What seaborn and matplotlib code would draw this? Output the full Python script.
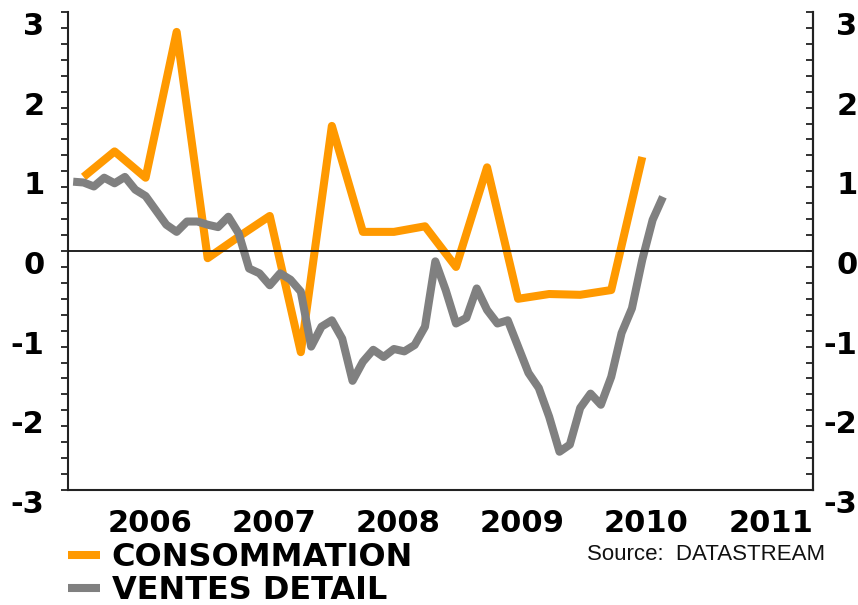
import numpy as np
import pandas as pd
import matplotlib
matplotlib.use("Agg")
import matplotlib.pyplot as plt
import seaborn as sns

# ---- data ----
cons_start = "2005Q1"
cons_values = [0.93, 1.25, 0.92, 2.75, -0.09, 0.18, 0.44, -1.27, 1.57, 0.24,
               0.24, 0.31, -0.20, 1.05, -0.60, -0.54, -0.55, -0.49, 1.18]
ventes_start = "2005-01"
ventes_values = [0.87, 0.86, 0.81, 0.92, 0.85, 0.93, 0.77, 0.69, 0.51, 0.33,
                 0.24, 0.37, 0.37, 0.33, 0.30, 0.43, 0.22, -0.22, -0.28, -0.43,
                 -0.28, -0.36, -0.51, -1.20, -0.95, -0.87, -1.10, -1.63, -1.39, -1.24,
                 -1.33, -1.23, -1.26, -1.18, -0.95, -0.13, -0.49, -0.91, -0.84, -0.47,
                 -0.74, -0.91, -0.87, -1.20, -1.53, -1.72, -2.08, -2.52, -2.43, -1.97,
                 -1.79, -1.93, -1.58, -1.03, -0.72, -0.11, 0.39, 0.68]
year_ticks = [2005, 2006, 2007, 2008, 2009, 2010, 2011]
year_labels = ["", "2006", "2007", "2008", "2009", "2010", "2011"]
y_ticks = [-3, -2, -1, 0, 1, 2, 3]
series_names = ["CONSOMMATION", "VENTES DETAIL"]
source_text = "Source:  DATASTREAM"

# ---- build tables ----
qp = pd.period_range(cons_start, periods=len(cons_values), freq="Q")
cons_df = pd.DataFrame({"t": qp.year + (qp.quarter - 0.5) / 4, "v": cons_values})
mp = pd.period_range(ventes_start, periods=len(ventes_values), freq="M")
ventes_df = pd.DataFrame({"t": mp.year + (mp.month - 0.5) / 12, "v": ventes_values})

sns.set_style("white")
plt.rcParams["font.family"] = ["DejaVu Sans"]
plt.rcParams["text.color"] = "black"

W, H = 858, 605
fig = plt.figure(figsize=(W / 100, H / 100), dpi=100)
L, R, T, B = 68, 813, 12, 490
ax = fig.add_axes([L / W, 1 - B / H, (R - L) / W, (B - T) / H])

ORANGE = "#FF9900"
GRAY = "#808080"
LW = 5.8

sns.lineplot(data=cons_df, x="t", y="v", ax=ax, color=ORANGE, linewidth=LW,
             estimator=None, label=series_names[0], zorder=3)
sns.lineplot(data=ventes_df, x="t", y="v", ax=ax, color=GRAY, linewidth=LW,
             estimator=None, label=series_names[1], zorder=4)
for ln in ax.lines:
    ln.set_solid_joinstyle("round")
    ln.set_solid_capstyle("butt")

ax.axhline(0, color="#111111", lw=1.3, zorder=5)

ax.set_xlim(year_ticks[0], year_ticks[-1])
ax.set_ylim(y_ticks[0], y_ticks[-1])
ax.set_xlabel("")
ax.set_ylabel("")

spine_c = "#222222"
for s in ["left", "right", "bottom"]:
    ax.spines[s].set_color(spine_c)
    ax.spines[s].set_linewidth(1.5)
ax.spines["top"].set_visible(False)

ax.set_xticks(year_ticks)
ax.set_xticklabels(year_labels, ha="right", fontsize=22, fontweight="bold", color="black")
ax.tick_params(axis="x", direction="out", length=5, width=1.3, color=spine_c, pad=9)

ax.set_yticks(y_ticks)
ax.set_yticks(np.arange(-3, 3.01, 0.2), minor=True)
ax.set_yticklabels([str(v) for v in y_ticks], va="top", fontsize=22,
                   fontweight="bold", color="black")
ax.tick_params(axis="y", which="both", direction="out", length=5, width=1.3,
               color=spine_c, pad=12, left=True, right=False)

ax2 = ax.twinx()
ax2.set_ylim(y_ticks[0], y_ticks[-1])
for s in ["left", "top", "bottom"]:
    ax2.spines[s].set_visible(False)
ax2.spines["right"].set_color(spine_c)
ax2.spines["right"].set_linewidth(1.5)
ax2.set_yticks(y_ticks)
ax2.set_yticks(np.arange(-3, 3.01, 0.2), minor=True)
ax2.set_yticklabels([str(v) for v in y_ticks], va="top", ha="right",
                    fontsize=22, fontweight="bold", color="black")
ax2.tick_params(axis="y", which="both", direction="in", length=5, width=1.3,
                color=spine_c, pad=32)

handles, labels = ax.get_legend_handles_labels()
ax.get_legend().remove()
leg = fig.legend(handles, labels, loc="upper left",
                 bbox_to_anchor=(L / W, 1 - 542 / H), bbox_transform=fig.transFigure,
                 frameon=False, borderpad=0, borderaxespad=0, handlelength=1.0,
                 handletextpad=0.37, labelspacing=0.07,
                 prop={"size": 23, "weight": "bold"})
for t in leg.get_texts():
    t.set_color("black")

fig.text(587 / W, 1 - 555 / H, source_text, va="center", ha="left",
         fontsize=16, family=["Liberation Sans", "DejaVu Sans"], color="#111111")

fig.savefig("out.png", dpi=100)
